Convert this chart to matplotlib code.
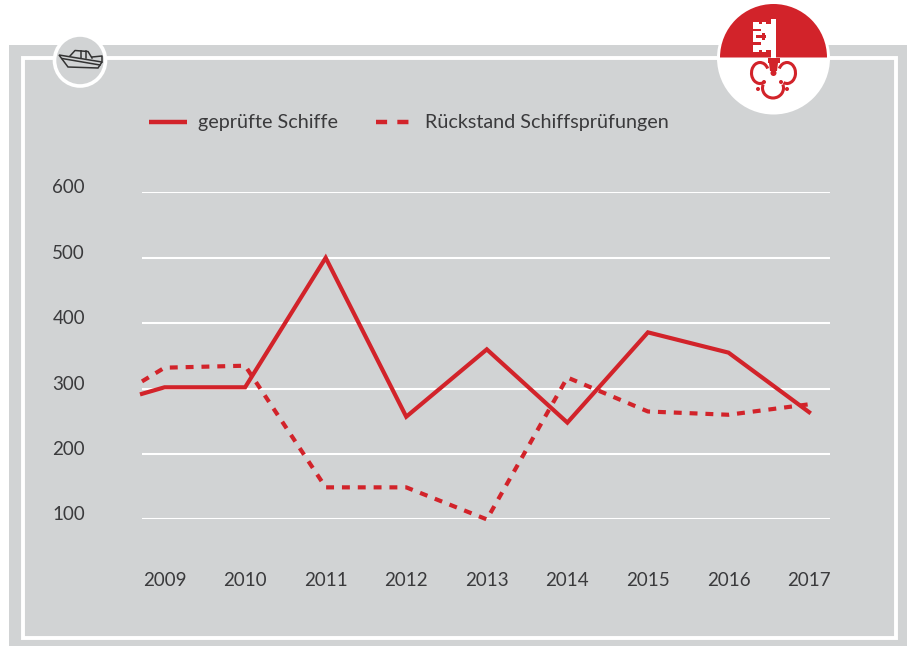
import matplotlib.pyplot as plt
from matplotlib.patches import Arc, Circle, Polygon, Rectangle, Wedge
from matplotlib.transforms import ScaledTranslation

plt.rcParams["font.family"] = ["Lato", "DejaVu Sans"]

# Data

years = [2008.72, 2009, 2010, 2011, 2012, 2013, 2014, 2015, 2016, 2017]
geprueft = [292, 302, 302, 500, 257, 360, 248, 386, 355, 264]
rueckstand = [311, 332, 335, 149, 149, 100, 317, 265, 260, 276]
year_ticks = [2009, 2010, 2011, 2012, 2013, 2014, 2015, 2016, 2017]
y_ticks = [100, 200, 300, 400, 500, 600]
series_names = ["geprüfte Schiffe", "Rückstand Schiffsprüfungen"]

RED = "#d2232a"
GREY = "#d1d3d4"
TEXT = "#3a3a3c"
DARK = "#333333"
W, H = 907, 646

fig = plt.figure(figsize=(W / 100, H / 100), dpi=100, facecolor="white")

# Background layer, in pixels of the picture

bg = fig.add_axes([0, 0, 1, 1])
bg.set_xlim(0, W)
bg.set_ylim(H, 0)
bg.axis("off")

bg.add_patch(Rectangle((9, 45), W - 9, H - 45, fc=GREY, ec="none"))
bg.add_patch(Rectangle((22.7, 58.3), 873.3, 580, fc="none", ec="white", lw=2.8))

# Boat badge

bg.add_patch(Circle((80, 60.5), 25.5, fc=GREY, ec="white", lw=2.6))
bg.add_patch(Polygon([(59, 55), (102, 62), (98, 68), (68, 67)], fc="none", ec=DARK, lw=1.1))
bg.plot([62, 100], [58.5, 65], color=DARK, lw=1.1)
bg.plot([70, 75, 88, 92], [56, 50.5, 51.5, 58], color=DARK, lw=1.1)
bg.plot([81, 81], [51, 57.5], color=DARK, lw=1.1)
bg.plot([86, 86], [51, 58], color=DARK, lw=1.1)
bg.plot([92, 102, 102], [57, 56, 62], color=DARK, lw=1.1)

# Coat of arms badge

bg.add_patch(Circle((773.5, 58), 56.5, fc="white", ec="none"))
bg.add_patch(Wedge((773.5, 57.5), 53.5, 180, 360, fc=RED, ec="none"))
bg.add_patch(Rectangle((771, 19), 5, 39, fc="white", ec="none"))
bg.add_patch(
    Polygon(
        [(753, 22), (759, 22), (759, 24), (762, 24), (762, 22), (766, 22), (766, 24),
         (771, 24), (771, 50), (766, 50), (766, 52), (762, 52), (762, 50), (759, 50),
         (759, 52), (753, 52)],
        fc="white",
        ec="none",
    )
)
for slot in [(753, 28.5, 8, 2.5), (753, 42, 8, 2.5), (756, 35, 10, 2.5), (762, 32.5, 2.5, 7.5)]:
    bg.add_patch(Rectangle(slot[:2], slot[2], slot[3], fc=RED, ec="none"))
bg.add_patch(Rectangle((768, 58), 12, 5, fc=RED, ec="none"))
bg.add_patch(Polygon([(769, 63), (778, 63), (777, 71), (770, 71)], fc=RED, ec="none"))
bg.add_patch(Circle((773.5, 73), 3, fc=RED, ec="none"))
bg.add_patch(Arc((760, 73), 17, 21, theta1=70, theta2=330, ec=RED, lw=2.2))
bg.add_patch(Arc((787, 73), 17, 21, theta1=210, theta2=110, ec=RED, lw=2.2))
bg.add_patch(Arc((773, 88), 21, 20, theta1=-20, theta2=200, ec=RED, lw=2.2))
for dot in [(764, 82), (781, 82), (758, 89), (787, 89)]:
    bg.add_patch(Circle(dot, 2, fc=RED, ec="none"))

# Legend

bg.plot([149, 187], [122, 122], color=RED, lw=3.2, solid_capstyle="butt")
bg.plot([376, 415], [122, 122], color=RED, lw=3.2, dashes=(2.5, 2.3))
bg.text(198, 128, series_names[0], color=TEXT, fontsize=14.2, va="baseline")
bg.text(425, 128, series_names[1], color=TEXT, fontsize=14.2, va="baseline")

# The chart itself

ax = fig.add_axes([142 / W, 1 - 519.4 / H, (830 - 142) / W, (519 - 192) / H])
ax.patch.set_alpha(0)
ax.set_xlim(2008.72, 2017.26)
ax.set_ylim(100, 600)
for side in ax.spines.values():
    side.set_visible(False)

ax.set_yticks(y_ticks)
ax.set_xticks(year_ticks)
ax.grid(axis="y", color="white", lw=1.5)
ax.set_axisbelow(True)
ax.tick_params(axis="y", length=0, pad=41, labelsize=13.5, labelcolor=TEXT)
ax.tick_params(axis="x", length=0, pad=38, labelsize=13.5, labelcolor=TEXT)
down = ScaledTranslation(0, -1 / 100, fig.dpi_scale_trans)
for label in ax.get_yticklabels():
    label.set_verticalalignment("baseline")
    label.set_transform(label.get_transform() + down)

ax.plot(years, geprueft, color=RED, lw=3, clip_on=False, solid_joinstyle="miter")
ax.plot(years, rueckstand, color=RED, lw=3, dashes=(1.9, 1.9), clip_on=False)

fig.savefig("out.png", dpi=100)
